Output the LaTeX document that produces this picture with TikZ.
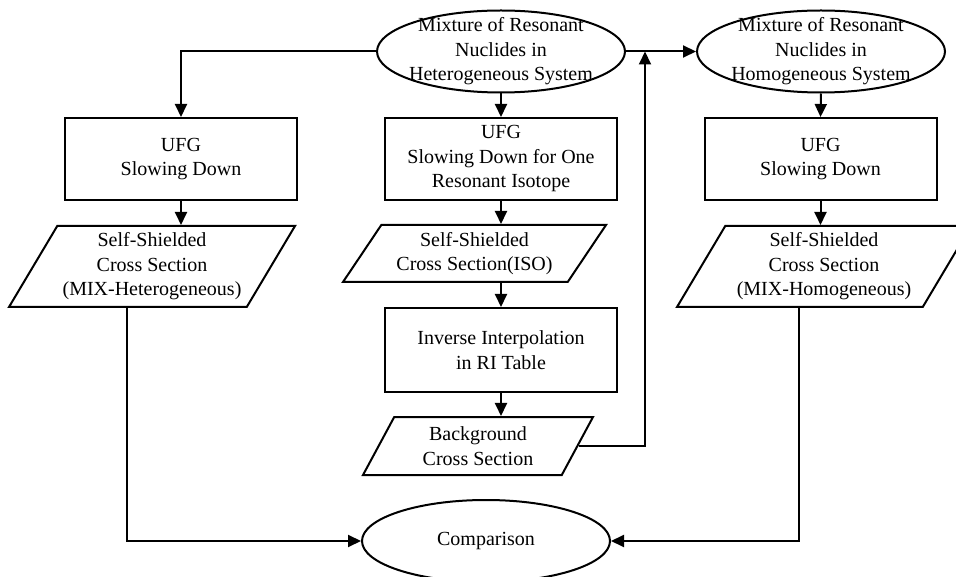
\documentclass[tikz,border=0pt]{standalone}
\usepackage{fontspec}
\setmainfont{Liberation Serif}
\usetikzlibrary{shapes.geometric,arrows.meta,calc}

\begin{document}
\begin{tikzpicture}[x=1pt,y=-1pt,line width=2pt,
    every node/.style={font=\fontsize{20}{24.5}\selectfont,align=center},
    flow/.style={-{Triangle[length=13pt,width=12pt]}},
    oval/.style={draw,ellipse,inner sep=0pt,minimum width=248pt,minimum height=82pt},
    box/.style={draw,rectangle,inner sep=0pt,minimum width=232pt,minimum height=82pt},
    data/.style={draw,trapezium,trapezium stretches body,inner sep=0pt}]
    \useasboundingbox (0,0) rectangle (956,577);

    % sources
    \node[oval,label={center:Mixture of Resonant\\Nuclides in\\Heterogeneous System}] (het) at (501,51.5) {};
    \node[oval,label={center:Mixture of Resonant\\Nuclides in\\Homogeneous System}] (hom) at (821,51.5) {};

    % slowing down
    \node[box] (ufgL) at (181,159) {UFG\\Slowing Down};
    \node[box] (ufgM) at (501,159) {UFG\\Slowing Down for One\\Resonant Isotope};
    \node[box] (ufgR) at (820.5,159) {UFG\\Slowing Down};

    % cross sections
    \node[data,trapezium left angle=54.4,trapezium right angle=125.6,minimum width=286pt,minimum height=81pt] (ssL) at (152,266.5) {Self-Shielded\\Cross Section\\(MIX-Heterogeneous)};
    \node[data,trapezium left angle=48.2,trapezium right angle=131.8,minimum width=263pt,minimum height=57pt] (ssM) at (474.5,253.5) {Self-Shielded\\Cross Section(ISO)};
    \node[data,trapezium left angle=54.4,trapezium right angle=125.6,minimum width=294pt,minimum height=81pt] (ssR) at (824,266.5) {Self-Shielded\\Cross Section\\(MIX-Homogeneous)};
    \node[box,minimum height=84pt] (inv) at (501,350) {Inverse Interpolation\\in RI Table};
    \node[data,trapezium left angle=51,trapezium right angle=129,minimum width=230pt,minimum height=58pt] (bg) at (478,446) {Background\\Cross Section};

    \node[oval] (cmp) at (486,541) {Comparison};

    \coordinate (merge) at (645,51.5);

    \draw[flow] (het.west) -| (ufgL.north);
    \draw[flow] (het.south) -- (ufgM.north);
    \draw[flow] (het.east) -- (hom.west);
    \draw[flow] (hom.south) -- (ufgR.north);
    \draw[flow] (ufgL.south) -- (ufgL.south |- ssL.north);
    \draw[flow] (ufgM.south) -- (ufgM.south |- ssM.north);
    \draw[flow] (ufgR.south) -- (ufgR.south |- ssR.north);
    \draw[flow] (inv.north |- ssM.south) -- (inv.north);
    \draw[flow] (inv.south) -- (inv.south |- bg.north);
    \draw[flow] (bg.east) -| (merge);
    \draw[flow] ($(ssL.bottom left corner)!0.5!(ssL.bottom right corner)$) |- (cmp.west);
    \draw[flow] ($(ssR.bottom left corner)!0.5!(ssR.bottom right corner)$) |- (cmp.east);
\end{tikzpicture}
\end{document}
